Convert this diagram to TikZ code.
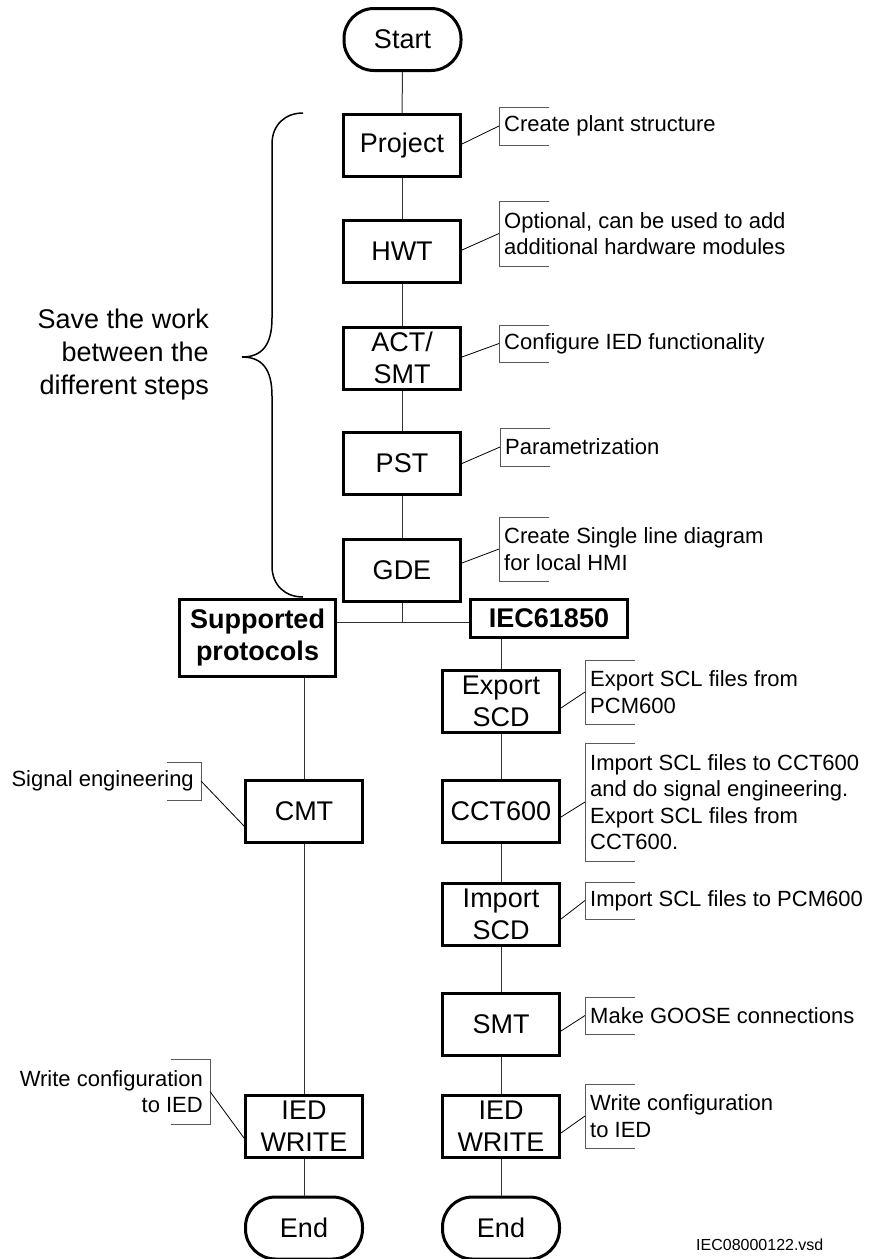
\documentclass[tikz,border=0pt]{standalone}
\usepackage{fontspec}
\setmainfont{Liberation Sans}
\usetikzlibrary{calc}

\newcommand\annR[5]{%
  \coordinate (#1) at (#2,#3);
  \draw[brk] ($(#1)+(50,-#4)$) -- ($(#1)+(0,-#4)$) -- ($(#1)+(0,#4)$) -- ($(#1)+(50,#4)$);
  \node[ann,anchor=west] (#1t) at ($(#1)+(5,0)$) {#5};
}
\newcommand\annL[6]{%
  \coordinate (#1) at (#2,#3);
  \draw[brk] ($(#1)+(-#5,-#4)$) -- ($(#1)+(0,-#4)$) -- ($(#1)+(0,#4)$) -- ($(#1)+(-#5,#4)$);
  \node[ann,anchor=east,align=right] (#1t) at ($(#1)+(-7,0)$) {#6};
}

\begin{document}
\begin{tikzpicture}[x=1pt,y=-1pt,
  box/.style={draw,line width=3pt,minimum width=117pt,minimum height=62pt,inner sep=0pt,align=center,font=\fontsize{27}{32}\selectfont},
  boldbox/.style={box,font=\fontsize{27}{32}\selectfont\bfseries},
  term/.style={box,rounded corners=30pt},
  ann/.style={inner sep=0pt,align=left,font=\fontsize{22}{26.5}\selectfont},
  conn/.style={line width=1pt,draw=black!80},
  brk/.style={line width=0.9pt,draw=black!65},
  lead/.style={line width=0.8pt,draw=black}]
\useasboundingbox (0,0) rectangle (872,1259);

% main column
\node[term] (start) at (402.5,39.5) {Start};
\node[box] (project) at (402,145.5) {Project};
\node[box] (hwt) at (402,251.5) {HWT};
\node[box] (act) at (402,358) {ACT/\\SMT};
\node[box] (pst) at (402,463.5) {PST};
\node[box] (gde) at (402,570) {GDE};
\node[boldbox,minimum width=156pt,minimum height=77pt] (sup) at (257.5,638) {Supported\\protocols};
\node[boldbox,minimum width=157pt,minimum height=38pt] (iec) at (549,618.5) {IEC61850};

% right column
\node[box] (export) at (501,701) {Export\\SCD};
\node[box] (cct) at (501,811.5) {CCT600};
\node[box] (imp) at (501,914) {Import\\SCD};
\node[box] (smt) at (501,1024.5) {SMT};
\node[box] (iedr) at (501,1126.5) {IED\\WRITE};
\node[term] (endr) at (501,1228) {End};

% left column
\node[box] (cmt) at (304,811) {CMT};
\node[box] (iedl) at (304,1126.5) {IED\\WRITE};
\node[term] (endl) at (304,1228) {End};

% connectors
\draw[conn] (start) -- (project);
\draw[conn] (project) -- (hwt);
\draw[conn] (hwt) -- (act);
\draw[conn] (act) -- (pst);
\draw[conn] (pst) -- (gde);
\coordinate (j) at (402,622);
\draw[conn] (gde) -- (j);
\draw[conn] (sup.east |- j) -- (iec.west |- j);
\draw[conn] (sup.south -| cmt) -- (cmt);
\draw[conn] (cmt) -- (iedl);
\draw[conn] (iedl) -- (endl);
\draw[conn] (iec.south -| export) -- (export);
\draw[conn] (export) -- (cct);
\draw[conn] (cct) -- (imp);
\draw[conn] (imp) -- (smt);
\draw[conn] (smt) -- (iedr);
\draw[conn] (iedr) -- (endr);

% annotations
\annR{aP}{499}{126}{19}{Create plant structure}
\annR{aH}{499}{233.5}{32.5}{Optional, can be used to add\\additional hardware modules}
\annR{aA}{499}{343.5}{18.5}{Configure IED functionality}
\annR{aS}{500}{447}{19}{Parametrization}
\annR{aG}{499}{549}{32}{Create Single line diagram\\for local HMI}
\annR{aE}{585}{692}{32}{Export SCL files from\\PCM600}
\annR{aC}{585}{802}{59}{Import SCL files to CCT600\\and do signal engineering.\\Export SCL files from\\CCT600.}
\annR{aI}{585}{900.5}{18.5}{Import SCL files to PCM600}
\annR{aM}{585}{1015.5}{18.5}{Make GOOSE connections}
\annR{aW}{585}{1116}{32}{Write configuration\\to IED}
\annL{aSig}{201}{781}{19}{34}{Signal engineering}
\annL{aWL}{210}{1091.5}{32.5}{39}{Write configuration\\to IED}

% leaders
\draw[lead] ([yshift=1.5pt]project.east) -- (aP);
\draw[lead] ([yshift=1.5pt]hwt.east) -- (aH);
\draw[lead] ([yshift=1pt]act.east) -- (aA);
\draw[lead] (pst.east) -- (aS);
\draw[lead] ([yshift=7pt]gde.east) -- (aG);
\draw[lead] ([yshift=-7pt]export.east) -- (aE);
\draw[lead] ([yshift=-5.5pt]cct.east) -- (aC);
\draw[lead] ([yshift=-5pt]imp.east) -- (aI);
\draw[lead] ([yshift=-6.5pt]smt.east) -- (aM);
\draw[lead] ([yshift=-6.5pt]iedr.east) -- (aW);
\draw[lead] ([yshift=-15pt]cmt.west) -- (aSig);
\draw[lead] ([yshift=-11.5pt]iedl.west) -- (aWL);

% brace and its text
\draw[line width=1.5pt] (303,113) .. controls (285,113) and (272,125) .. (272,144)
  -- (272,318) .. controls (272,345) and (262,357) .. (242,357)
  .. controls (262,357) and (272,369) .. (272,396)
  -- (272,566) .. controls (272,585) and (285,597) .. (303,597);
\node[inner sep=0pt,align=right,anchor=east,font=\fontsize{27}{33}\selectfont] (save) at (209,355) {Save the work\\between the\\different steps};

\node[inner sep=0pt,anchor=west,font=\fontsize{16}{19}\selectfont] (vsd) at (696,1245) {IEC08000122.vsd};
\end{tikzpicture}
\end{document}
